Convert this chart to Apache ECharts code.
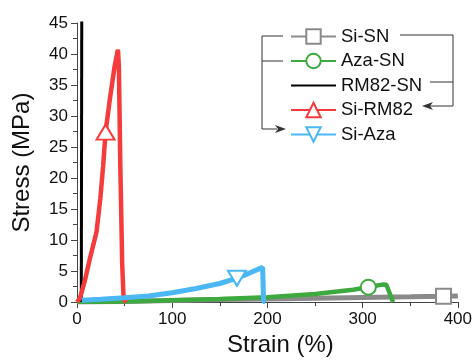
<!DOCTYPE html>
<html>
<head>
<meta charset="utf-8">
<script src="https://cdn.jsdelivr.net/npm/echarts@6/dist/echarts.min.js"></script>
<style>
  html, body { margin: 0; padding: 0; background: #fff; }
  #chart { width: 475px; height: 362px; }
</style>
</head>
<body>
<div id="chart"></div>
<script>
// strain (%) / stress (MPa)
var siSNStrain = [0, 50, 100, 150, 200, 250, 300, 350, 385, 400];
var siSNStress = [0, 0.1, 0.25, 0.4, 0.5, 0.62, 0.75, 0.85, 0.95, 1.0];

var azaSNStrain = [0, 50, 100, 150, 200, 250, 290, 306, 316, 322, 325, 332];
var azaSNStress = [0, 0.1, 0.3, 0.5, 0.8, 1.3, 2.0, 2.4, 2.7, 2.85, 2.8, 0];

var rm82SNStrain = [4.5, 5];
var rm82SNStress = [0, 46];

var siRM82Strain = [0, 3, 8, 13.5, 20.5, 24.5, 27.5, 30, 34.5, 39.5, 43, 44, 45.5, 47.5, 49, 52];
var siRM82Stress = [0, 0.6, 3.3, 7, 11.3, 16.7, 22, 27.4, 32.7, 38, 40.7, 38, 22, 6, 0.4, 0];

var siAzaStrain = [5, 25, 50, 75, 100, 125, 150, 168, 180, 195, 196, 198];
var siAzaStress = [0.3, 0.45, 0.7, 1.0, 1.5, 2.2, 3.0, 3.85, 4.6, 5.6, 0.1, 0];

var names = ['Si-SN', 'Aza-SN', 'RM82-SN', 'Si-RM82', 'Si-Aza'];
var xTicks = [0, 100, 200, 300, 400];
var yTicks = [0, 5, 10, 15, 20, 25, 30, 35, 40, 45];

var chart = echarts.init(document.getElementById('chart'));

// only one hollow marker per curve, like the original plot
function makeData(xs, ys, markIdx) {
  return xs.map(function (x, i) {
    if (i === markIdx) return { value: [x, ys[i]] };
    return { value: [x, ys[i]], symbol: 'none' };
  });
}

function curve(name, color, width, xs, ys, markIdx, symbol, size, rotate) {
  var s = {
    name: name,
    type: 'line',
    color: color,
    data: makeData(xs, ys, markIdx),
    symbol: symbol,
    symbolSize: size,
    symbolRotate: rotate || 0,
    showAllSymbol: true,
    smooth: false,
    lineStyle: { color: color, width: width },
    itemStyle: { color: '#fff', borderColor: color, borderWidth: 2 },
    emphasis: { disabled: true },
    z: 2
  };
  if (markIdx < 0) {
    // no marker: keep legend icon a plain line
    s.itemStyle = { color: 'rgba(0,0,0,0)', borderWidth: 0 };
  }
  return s;
}

var arrowColor = '#333';

var option = {
  animation: false,
  grid: { left: 77, right: 13, top: 23, bottom: 58 },
  textStyle: { fontFamily: 'Liberation Sans, Arial, sans-serif' },
  legend: {
    data: names,
    orient: 'vertical',
    left: 285,
    top: 22,
    itemWidth: 45,
    itemHeight: 18,
    itemGap: 5.5,
    textStyle: { fontSize: 18.5, color: '#111', lineHeight: 18 }
  },
  xAxis: {
    type: 'value',
    min: 0,
    max: 400,
    interval: 100,
    name: 'Strain (%)',
    nameLocation: 'middle',
    nameGap: 27,
    nameTextStyle: { fontSize: 24, color: '#111', padding: [0, 0, 0, 26] },
    axisLine: { lineStyle: { color: '#444', width: 1 } },
    axisTick: { show: true, inside: false, length: 6, lineStyle: { color: '#444' } },
    minorTick: { show: true, splitNumber: 2, length: 4, lineStyle: { color: '#444' } },
    axisLabel: {
      fontSize: 17, color: '#111', margin: 9,
      formatter: function (v) { return xTicks.indexOf(v) >= 0 ? String(v) : ''; }
    },
    splitLine: { show: false }
  },
  yAxis: {
    type: 'value',
    min: 0,
    max: 45,
    interval: 5,
    name: 'Stress (MPa)',
    nameLocation: 'middle',
    nameGap: 43,
    nameTextStyle: { fontSize: 24, color: '#111' },
    axisLine: { show: true, lineStyle: { color: '#444', width: 1 } },
    axisTick: { show: true, inside: false, length: 6, lineStyle: { color: '#444' } },
    minorTick: { show: true, splitNumber: 2, length: 4, lineStyle: { color: '#444' } },
    axisLabel: {
      fontSize: 17, color: '#111', margin: 9,
      formatter: function (v) { return yTicks.indexOf(v) >= 0 ? String(v) : ''; }
    },
    splitLine: { show: false }
  },
  series: [
    curve('Si-SN', '#8a8a8a', 5, siSNStrain, siSNStress, 8, 'rect', 15),
    curve('Aza-SN', '#3ea93e', 4.5, azaSNStrain, azaSNStress, 7, 'circle', 15),
    curve('RM82-SN', '#000000', 3, rm82SNStrain, rm82SNStress, -1, 'circle', 0),
    curve('Si-RM82', '#f53b3b', 4.5, siRM82Strain, siRM82Stress, 7, 'triangle', [18, 15]),
    curve('Si-Aza', '#4bb7f5', 5, siAzaStrain, siAzaStress, 7, 'triangle', [18, 15], 180)
  ],
  graphic: [
    // left bracket: Si-SN + Aza-SN -> Si-Aza
    { type: 'polyline', shape: { points: [[283, 36], [262, 36], [262, 129], [277, 129]] },
      style: { stroke: arrowColor, lineWidth: 1, fill: null }, silent: true },
    { type: 'line', shape: { x1: 262, y1: 61, x2: 283, y2: 61 },
      style: { stroke: arrowColor, lineWidth: 1 }, silent: true },
    { type: 'polygon', shape: { points: [[286, 129], [275, 125], [278, 129], [275, 133]] },
      style: { fill: arrowColor }, silent: true },
    // right bracket: Si-SN + RM82-SN -> Si-RM82
    { type: 'polyline', shape: { points: [[400, 35], [453, 35], [453, 106], [429, 106]] },
      style: { stroke: arrowColor, lineWidth: 1, fill: null }, silent: true },
    { type: 'line', shape: { x1: 430, y1: 82, x2: 453, y2: 82 },
      style: { stroke: arrowColor, lineWidth: 1 }, silent: true },
    { type: 'polygon', shape: { points: [[422, 106], [433, 102], [430, 106], [433, 110]] },
      style: { fill: arrowColor }, silent: true }
  ]
};

chart.setOption(option);
</script>
</body>
</html>
